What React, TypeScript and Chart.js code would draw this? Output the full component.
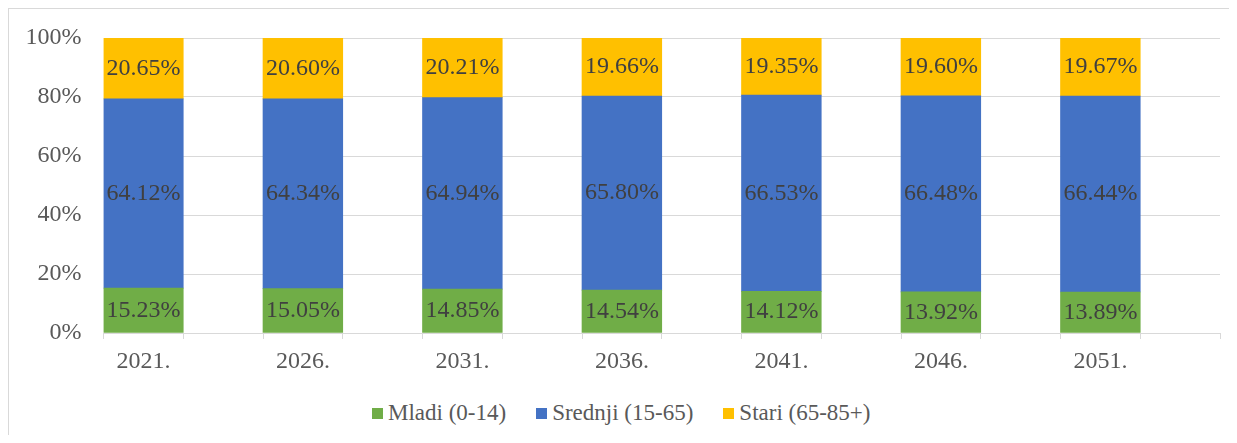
import React, { useEffect, useRef } from "react";
import { Chart, registerables } from "chart.js";

Chart.register(...registerables);

const years = ["2021.", "2026.", "2031.", "2036.", "2041.", "2046.", "2051."];
const mladi = [15.23, 15.05, 14.85, 14.54, 14.12, 13.92, 13.89];
const srednji = [64.12, 64.34, 64.94, 65.8, 66.53, 66.48, 66.44];
const stari = [20.65, 20.6, 20.21, 19.66, 19.35, 19.6, 19.67];
const seriesNames = ["Mladi (0-14)", "Srednji (15-65)", "Stari (65-85+)"];
const seriesColors = ["#70AD47", "#4472C4", "#FFC000"];
const yTicks = [0, 20, 40, 60, 80, 100];

const FONT = "'Liberation Serif', 'Times New Roman', serif";

// Each year is followed by an empty category slot (as in the source chart)
const categories: string[] = [];
years.forEach((y) => {
  categories.push(y);
  categories.push("");
});
const spread = (vals: number[]) => {
  const out: (number | null)[] = [];
  vals.forEach((v) => {
    out.push(v);
    out.push(null);
  });
  return out;
};

const dataLabels = {
  id: "dataLabels",
  afterDatasetsDraw(chart: any) {
    const ctx = chart.ctx;
    ctx.save();
    ctx.font = `24px ${FONT}`;
    ctx.fillStyle = "#404040";
    ctx.textAlign = "center";
    ctx.textBaseline = "middle";
    chart.data.datasets.forEach((ds: any, di: number) => {
      const meta = chart.getDatasetMeta(di);
      meta.data.forEach((el: any, i: number) => {
        const v = ds.data[i];
        if (v === null || v === undefined) return;
        const y = (el.y + el.base) / 2;
        ctx.fillText(v.toFixed(2) + "%", el.x, y);
      });
    });
    ctx.restore();
  },
};

export default function App() {
  const ref = useRef<HTMLCanvasElement>(null);

  useEffect(() => {
    if (!ref.current) return;
    const chart = new Chart(ref.current, {
      type: "bar",
      data: {
        labels: categories,
        datasets: [mladi, srednji, stari].map((vals, i) => ({
          label: seriesNames[i],
          data: spread(vals),
          backgroundColor: seriesColors[i],
          borderWidth: 0,
          categoryPercentage: 1,
          barPercentage: 1,
        })),
      },
      options: {
        animation: false,
        responsive: false,
        maintainAspectRatio: false,
        layout: { padding: { left: 0, right: 9, top: 29, bottom: 0 } },
        plugins: {
          legend: { display: false },
          tooltip: { enabled: false },
        },
        scales: {
          x: {
            stacked: true,
            grid: {
              display: true,
              drawOnChartArea: false,
              drawTicks: true,
              tickLength: 6,
              color: "#d9d9d9",
              offset: true,
            },
            border: { display: true, color: "#d9d9d9" },
            ticks: {
              autoSkip: false,
              maxRotation: 0,
              minRotation: 0,
              padding: 8,
              color: "#595959",
              font: { family: FONT, size: 24 },
            },
            afterFit: (s: any) => {
              s.height = 56;
            },
          },
          y: {
            stacked: true,
            min: 0,
            max: 100,
            afterBuildTicks: (s: any) => {
              s.ticks = yTicks.map((v) => ({ value: v }));
            },
            grid: {
              color: "#d9d9d9",
              drawTicks: true,
              tickLength: 22,
              tickColor: "rgba(0,0,0,0)",
            },
            border: { display: false },
            ticks: {
              padding: 0,
              color: "#595959",
              font: { family: FONT, size: 24 },
              callback: (v: any) => v + "%",
            },
            afterFit: (s: any) => {
              s.width = 94.5;
            },
          },
        },
      },
      plugins: [dataLabels],
    });
    return () => chart.destroy();
  }, []);

  return (
    <div
      style={{
        position: "relative",
        width: 1220,
        height: 426,
        borderLeft: "1px solid #d9d9d9",
        borderTop: "1px solid #d9d9d9",
        background: "#fff",
      }}
    >
      <canvas ref={ref} width={1220} height={380} style={{ display: "block" }} />
      <div
        style={{
          position: "absolute",
          left: 363,
          top: 391,
          display: "flex",
          alignItems: "center",
          fontFamily: FONT,
          fontSize: 23,
          lineHeight: "26px",
          color: "#595959",
          whiteSpace: "nowrap",
        }}
      >
        {seriesNames.map((n, i) => (
          <div key={n} style={{ display: "flex", alignItems: "center", marginRight: 30 }}>
            <span
              style={{
                display: "inline-block",
                width: 11,
                height: 11,
                background: seriesColors[i],
                marginRight: 5,
              }}
            />
            <span>{n}</span>
          </div>
        ))}
      </div>
    </div>
  );
}
